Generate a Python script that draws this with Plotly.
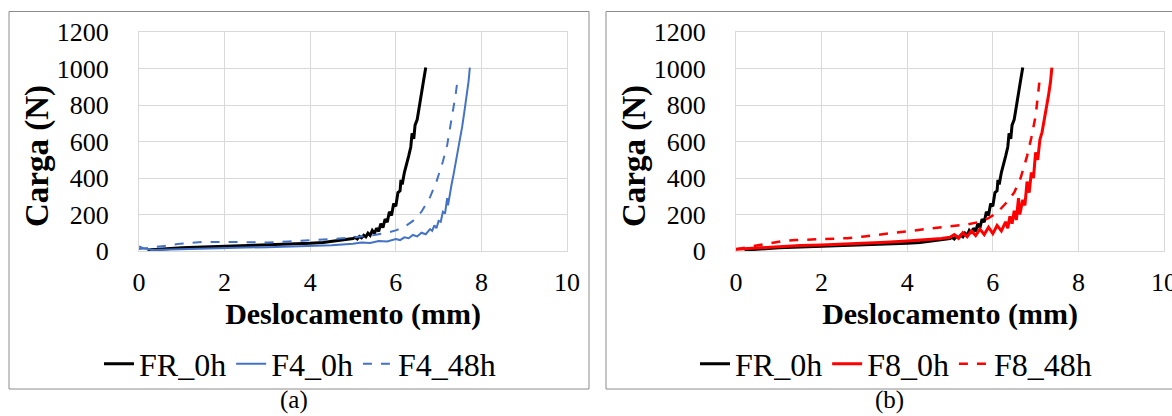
import plotly.graph_objects as go

# ---------------- data ----------------
FR_0h_x = [0.2, 0.5, 1.0, 1.5, 2.0, 2.5, 3.0, 3.5, 4.0, 4.3, 4.6, 4.9,
           5.0, 5.05, 5.1, 5.15, 5.2, 5.25, 5.3, 5.35, 5.4, 5.45, 5.5, 5.55, 5.6, 5.65, 5.7, 5.75,
           5.8, 5.85, 5.9, 5.95, 6.0, 6.05, 6.1, 6.12, 6.15, 6.2, 6.25, 6.3, 6.35, 6.38, 6.42, 6.45,
           6.5, 6.55, 6.6, 6.65, 6.7]
FR_0h_y = [5, 10, 18, 22, 26, 29, 32, 36, 42, 47, 55, 62,
           68, 74, 66, 80, 72, 86, 78, 98, 86, 112, 96, 125, 108, 150, 128, 175,
           158, 215, 195, 260, 245, 320, 330, 390, 365, 430, 470, 520, 570, 645, 615, 690,
           720, 800, 870, 935, 1005]

F4_0h_x = [0, 0.1, 0.3, 0.6, 1.0, 1.5, 2.0, 2.5, 3.0, 3.5, 4.0, 4.5, 5.0, 5.2, 5.4, 5.6, 5.8,
           6.0, 6.1, 6.2, 6.3, 6.4, 6.5, 6.6, 6.7, 6.8, 6.85, 6.9, 6.95, 7.0, 7.05, 7.1, 7.15,
           7.2, 7.22, 7.25, 7.3, 7.35, 7.4, 7.45, 7.5, 7.55, 7.6, 7.65, 7.7, 7.73]
F4_0h_y = [25, 15, 6, 8, 12, 14, 16, 19, 21, 24, 28, 32, 40, 46, 44, 55, 52,
           66, 60, 75, 70, 88, 80, 100, 92, 120, 110, 140, 125, 165, 160, 215, 205,
           290, 250, 300, 360, 420, 480, 540, 610, 680, 760, 840, 930, 1005]

F4_48h_x = [0, 0.3, 0.6, 0.9, 1.2, 1.5, 2.0, 2.5, 3.0, 3.5, 4.0, 4.5, 5.0, 5.5, 5.8, 6.0, 6.2, 6.4, 6.6,
            6.8, 6.95, 7.1, 7.2, 7.3, 7.4, 7.45]
F4_48h_y = [11, 18, 28, 38, 46, 50, 50, 47, 47, 52, 57, 65, 75, 88, 100, 113, 132, 165, 215,
            295, 380, 490, 580, 710, 860, 950]

F8_0h_x = [0, 0.3, 0.6, 1.0, 1.5, 2.0, 2.5, 3.0, 3.5, 4.0, 4.4, 4.8,
           5.0, 5.1, 5.2, 5.3, 5.4, 5.5, 5.6, 5.7, 5.8, 5.9, 6.0, 6.1, 6.2, 6.3, 6.35, 6.4, 6.45,
           6.5, 6.55, 6.6, 6.63, 6.7, 6.75, 6.8, 6.85, 6.9, 6.95, 7.0, 7.05, 7.1, 7.15, 7.2,
           7.25, 7.3, 7.35, 7.38]
F8_0h_y = [10, 14, 20, 26, 30, 33, 37, 42, 48, 55, 60, 68,
           75, 90, 70, 100, 78, 110, 85, 120, 90, 130, 95, 140, 110, 160, 125, 190, 150,
           220, 170, 290, 200, 280, 250, 380, 320, 430, 400, 540, 500, 610, 650, 710,
           780, 850, 930, 1005]

F8_48h_x = [0, 0.25, 0.5, 0.8, 1.1, 1.4, 1.8, 2.2, 2.6, 3.0, 3.5, 4.0, 4.5, 5.0, 5.4, 5.7, 5.9, 6.1, 6.3,
            6.5, 6.65, 6.8, 6.9, 7.0, 7.05, 7.1]
F8_48h_y = [10, 20, 33, 45, 55, 60, 64, 64, 70, 80, 95, 110, 122, 135, 145, 160, 180, 210, 260,
            320, 400, 520, 620, 740, 830, 950]

x_ticks = [0, 2, 4, 6, 8, 10]
y_ticks = [0, 200, 400, 600, 800, 1000, 1200]

# ---------------- styling ----------------
W, H = 1172, 416
SERIF = "Liberation Serif"
BLACK, BLUE, RED = "#000000", "#4472C4", "#FF0000"
GRID = "#D9D9D9"
BORDER = "#8C8C8C"

fig = go.Figure()

fig.add_trace(go.Scatter(x=FR_0h_x, y=FR_0h_y, mode="lines", name="FR_0h",
                         line=dict(color=BLACK, width=3), xaxis="x", yaxis="y", legend="legend"))
fig.add_trace(go.Scatter(x=F4_0h_x, y=F4_0h_y, mode="lines", name="F4_0h",
                         line=dict(color=BLUE, width=2), xaxis="x", yaxis="y", legend="legend"))
fig.add_trace(go.Scatter(x=F4_48h_x, y=F4_48h_y, mode="lines", name="F4_48h",
                         line=dict(color=BLUE, width=2, dash="dash"), xaxis="x", yaxis="y", legend="legend"))

fig.add_trace(go.Scatter(x=FR_0h_x, y=FR_0h_y, mode="lines", name="FR_0h",
                         line=dict(color=BLACK, width=3), xaxis="x2", yaxis="y2", legend="legend2"))
fig.add_trace(go.Scatter(x=F8_0h_x, y=F8_0h_y, mode="lines", name="F8_0h",
                         line=dict(color=RED, width=3), xaxis="x2", yaxis="y2", legend="legend2"))
fig.add_trace(go.Scatter(x=F8_48h_x, y=F8_48h_y, mode="lines", name="F8_48h",
                         line=dict(color=RED, width=2.5, dash="dash"), xaxis="x2", yaxis="y2", legend="legend2"))

def xax(domain, anchor):
    return dict(domain=domain, anchor=anchor, range=[0, 10], tickvals=x_ticks, automargin=False,
                showgrid=True, gridcolor=GRID, gridwidth=1, zeroline=False,
                showline=True, linecolor=GRID, linewidth=1, mirror=True,
                ticks="", ticklabelstandoff=8, ticklabeloverflow="allow",
                tickfont=dict(family=SERIF, size=26, color="#000"),
                title=dict(text="<b>Deslocamento (mm)</b>", standoff=6,
                           font=dict(family=SERIF, size=30, color="#000")))

def yax(domain, anchor):
    return dict(domain=domain, anchor=anchor, range=[0, 1200], tickvals=y_ticks, automargin=False,
                showgrid=True, gridcolor=GRID, gridwidth=1, zeroline=False,
                showline=True, linecolor=GRID, linewidth=1, mirror=True,
                ticks="", ticklabelstandoff=24,
                tickfont=dict(family=SERIF, size=26, color="#000"))

ydom = [1 - 251 / H, 1 - 32 / H]
fig.update_layout(
    template="none",
    width=W, height=H, margin=dict(l=0, r=0, t=0, b=0),
    paper_bgcolor="white", plot_bgcolor="white",
    font=dict(family=SERIF, color="#000"),
    xaxis=xax([139 / W, 567 / W], "y"),
    yaxis=yax(ydom, "x"),
    xaxis2=xax([736 / W, 1164 / W], "y2"),
    yaxis2=yax(ydom, "x2"),
    legend=dict(orientation="h", x=300 / W, xanchor="center", y=1 - 364 / H, yanchor="middle",
                font=dict(family=SERIF, size=32, color="#000"), bgcolor="rgba(0,0,0,0)",
                itemwidth=30, tracegroupgap=0),
    legend2=dict(orientation="h", x=896 / W, xanchor="center", y=1 - 364 / H, yanchor="middle",
                 font=dict(family=SERIF, size=32, color="#000"), bgcolor="rgba(0,0,0,0)",
                 itemwidth=30, tracegroupgap=0),
    showlegend=True,
)

# panel borders
fig.add_shape(type="rect", xref="paper", yref="paper", x0=9 / W, x1=589 / W, y0=1 - 389 / H, y1=1 - 11.5 / H,
              line=dict(color=BORDER, width=1), fillcolor="rgba(0,0,0,0)", layer="below")
fig.add_shape(type="rect", xref="paper", yref="paper", x0=606 / W, x1=1.01, y0=1 - 389 / H, y1=1 - 11.5 / H,
              line=dict(color=BORDER, width=1), fillcolor="rgba(0,0,0,0)", layer="below")

# y-axis titles
for xc in (37, 634):
    fig.add_annotation(text="<b>Carga (N)</b>", xref="paper", yref="paper", x=xc / W, y=1 - 156 / H,
                       textangle=-90, showarrow=False, xanchor="center", yanchor="middle",
                       font=dict(family=SERIF, size=33, color="#000"))

# captions
for xc, lab in ((294, "(a)"), (889, "(b)")):
    fig.add_annotation(text=lab, xref="paper", yref="paper", x=xc / W, y=0,
                       showarrow=False, xanchor="center", yanchor="bottom",
                       font=dict(family=SERIF, size=25, color="#000"))

fig.write_html("out.html")
